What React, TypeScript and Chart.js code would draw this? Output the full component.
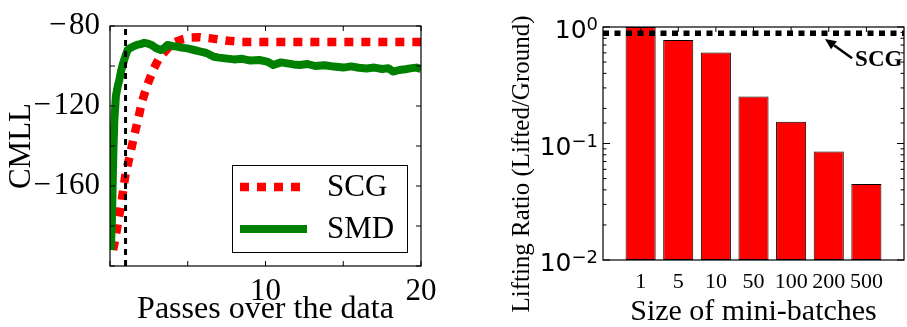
import React, { useEffect, useRef } from 'react';
import { Chart, registerables } from 'chart.js';

Chart.register(...registerables);

// ---------- Left panel data ----------
const scgPasses = [0.2, 0.35, 0.5, 0.7, 0.85, 1.0, 1.3, 1.55, 1.8, 2.05, 2.4, 2.8, 3.1, 3.4, 3.8, 4.2, 4.7, 5.2, 5.8, 6.5, 7.0, 7.6, 8.5, 10, 12, 14, 16, 18, 20];
const scgCmll = [-192, -186, -179, -170, -162, -154, -144, -135, -127, -118, -109.5, -101.5, -97, -94, -90.5, -88, -86.5, -85.7, -85.6, -86.2, -86.8, -87.4, -88, -88, -88, -88, -88, -88, -88];

const smdPasses = [0.05, 0.12, 0.17, 0.22, 0.28, 0.38, 0.5, 0.6, 0.7, 0.81, 0.95, 1.13, 1.35, 1.56, 1.8, 2.0, 2.2, 2.45, 2.7, 2.95, 3.27, 3.5, 3.7, 4.0, 4.3, 4.6, 4.98, 5.4, 5.83, 6.2, 6.69, 7.0, 7.4, 7.97, 8.5, 9.04, 9.6, 10.1, 10.5, 11.0, 11.4, 11.8, 12.2, 12.7, 13.2, 13.8, 14.4, 15.0, 15.5, 16.0, 16.5, 17.0, 17.5, 17.9, 18.2, 18.6, 19.0, 19.3, 19.7, 20.0];
const smdCmll = [-192, -178, -160, -142, -127, -115, -110, -107, -103, -99.5, -96, -92, -90.8, -90, -89.3, -89, -88.4, -88.8, -89.6, -91, -92, -91, -89.5, -90, -90.3, -90.8, -91.2, -92, -92.8, -93.5, -95.4, -95.8, -96.2, -96.7, -96.4, -97.3, -97.0, -97.8, -99.5, -98.2, -98.7, -99.2, -99.5, -99.0, -100.0, -99.6, -100.3, -100.8, -100.2, -100.9, -101.2, -100.8, -101.5, -101.1, -102.8, -102.0, -101.6, -101.2, -100.8, -101.5];

const passMarker = 1;
const leftXTickLabels = [10, 20];
const leftYTickLabels = [-80, -120, -160];
const leftSeriesNames = ['SCG', 'SMD'];

// ---------- Right panel data ----------
const batchSizes = ['1', '5', '10', '50', '100', '200', '500'];
const liftingRatio = [1.0, 0.774, 0.603, 0.253, 0.154, 0.0854, 0.0449];
const scgLiftingRatio = 0.883;
const rightYTickExponents = [0, -1, -2];
const scgLabelAt = { x: 5.7, y: 0.46 };
const scgArrowTail = { x: 5.62, y: 0.54 };
const scgArrowTip = { x: 4.9, y: 0.79 };

const SERIF = '"Liberation Serif", "Times New Roman", serif';
const SANS = '"DejaVu Sans", sans-serif';

function drawFrame(chart: any) {
  const { ctx, chartArea: a } = chart;
  ctx.save();
  ctx.strokeStyle = '#000';
  ctx.lineWidth = 1.2;
  ctx.strokeRect(a.left, a.top, a.right - a.left, a.bottom - a.top);
  ctx.restore();
}

const leftFramePlugin = {
  id: 'leftFrame',
  afterDatasetsDraw(chart: any) {
    const { ctx, chartArea: a, scales } = chart;
    drawFrame(chart);
    ctx.save();
    ctx.strokeStyle = '#000';
    ctx.lineWidth = 1;
    const L = 5;
    ctx.beginPath();
    for (const t of scales.x.ticks) {
      const x = scales.x.getPixelForValue(t.value);
      ctx.moveTo(x, a.bottom); ctx.lineTo(x, a.bottom - L);
      ctx.moveTo(x, a.top); ctx.lineTo(x, a.top + L);
    }
    for (const t of scales.y.ticks) {
      const y = scales.y.getPixelForValue(t.value);
      ctx.moveTo(a.left, y); ctx.lineTo(a.left + L, y);
      ctx.moveTo(a.right, y); ctx.lineTo(a.right - L, y);
    }
    ctx.stroke();
    ctx.restore();
  },
  afterDraw(chart: any) {
    const { ctx, chartArea: a } = chart;
    const w = 175, h = 87;
    const right = a.right - 14, bottom = a.bottom - 14;
    const left = right - w, top = bottom - h;
    ctx.save();
    ctx.fillStyle = '#fff';
    ctx.fillRect(left, top, w, h);
    ctx.strokeStyle = '#000';
    ctx.lineWidth = 1;
    ctx.strokeRect(left + 0.5, top + 0.5, w, h);
    leftSeriesNames.forEach((name, i) => {
      const ds = chart.data.datasets[i];
      const y = top + 22 + i * 42;
      ctx.beginPath();
      ctx.strokeStyle = ds.borderColor;
      ctx.lineWidth = ds.borderWidth;
      ctx.lineCap = 'butt';
      ctx.setLineDash(ds.borderDash || []);
      ctx.moveTo(left + 8, y);
      ctx.lineTo(left + 75, y);
      ctx.stroke();
      ctx.setLineDash([]);
      ctx.fillStyle = '#000';
      ctx.font = `31px ${SERIF}`;
      ctx.textBaseline = 'middle';
      ctx.textAlign = 'left';
      ctx.fillText(name, left + 95, y + 1);
    });
    ctx.restore();
  },
};

const rightFramePlugin = {
  id: 'rightFrame',
  afterDatasetsDraw(chart: any) {
    const { ctx, chartArea: a, scales } = chart;
    drawFrame(chart);
    ctx.save();
    ctx.strokeStyle = '#000';
    ctx.lineWidth = 1;
    ctx.beginPath();
    for (const t of scales.y.ticks) {
      const v = t.value;
      const lg = Math.log10(v);
      const major = Math.abs(lg - Math.round(lg)) < 1e-6;
      const L = major ? 7 : 3.5;
      const y = scales.y.getPixelForValue(v);
      ctx.moveTo(a.left, y); ctx.lineTo(a.left + L, y);
      ctx.moveTo(a.right, y); ctx.lineTo(a.right - L, y);
    }
    batchSizes.forEach((_, i) => {
      const x = scales.x.getPixelForValue(i);
      ctx.moveTo(x, a.top); ctx.lineTo(x, a.top + 5);
    });
    ctx.stroke();
    ctx.restore();
  },
  afterDraw(chart: any) {
    const { ctx, chartArea: a, scales } = chart;
    ctx.save();
    ctx.fillStyle = '#000';
    // y tick labels 10^e
    const rightEdge = a.left - 5;
    for (const e of rightYTickExponents) {
      const y = scales.y.getPixelForValue(Math.pow(10, e));
      const sup = e < 0 ? '\u2212' + Math.abs(e) : String(e);
      ctx.font = `18px ${SANS}`;
      const w2 = ctx.measureText(sup).width;
      ctx.font = `25px ${SANS}`;
      const w1 = ctx.measureText('10').width;
      ctx.textBaseline = 'alphabetic';
      ctx.textAlign = 'left';
      ctx.fillText('10', rightEdge - w2 - w1, y + 11);
      ctx.font = `18px ${SANS}`;
      ctx.fillText(sup, rightEdge - w2, y + 3);
    }
    // y title
    ctx.save();
    ctx.translate(64, 164);
    ctx.rotate(-Math.PI / 2);
    ctx.font = `25px ${SERIF}`;
    ctx.textAlign = 'center';
    ctx.textBaseline = 'middle';
    ctx.fillText('Lifting Ratio (Lifted/Ground)', 0, 0);
    ctx.restore();
    // annotation
    const tx = scales.x.getPixelForValue(scgArrowTail.x), ty = scales.y.getPixelForValue(scgArrowTail.y);
    const hx = scales.x.getPixelForValue(scgArrowTip.x), hy = scales.y.getPixelForValue(scgArrowTip.y);
    const ang = Math.atan2(hy - ty, hx - tx);
    const headLen = 11, headW = 5;
    const bx = hx - headLen * Math.cos(ang), by = hy - headLen * Math.sin(ang);
    ctx.strokeStyle = '#000';
    ctx.lineWidth = 2.5;
    ctx.beginPath();
    ctx.moveTo(tx, ty); ctx.lineTo(bx, by);
    ctx.stroke();
    ctx.beginPath();
    ctx.moveTo(hx, hy);
    ctx.lineTo(bx + headW * Math.sin(ang), by - headW * Math.cos(ang));
    ctx.lineTo(bx - headW * Math.sin(ang), by + headW * Math.cos(ang));
    ctx.closePath();
    ctx.fill();
    ctx.font = `bold 23px ${SERIF}`;
    ctx.textAlign = 'left';
    ctx.textBaseline = 'alphabetic';
    ctx.fillText('SCG', scales.x.getPixelForValue(scgLabelAt.x), scales.y.getPixelForValue(scgLabelAt.y));
    ctx.restore();
  },
};

function leftConfig(): any {
  return {
    type: 'line',
    data: {
      datasets: [
        {
          label: leftSeriesNames[0],
          data: scgPasses.map((x, i) => ({ x, y: scgCmll[i] })),
          borderColor: '#ff0000', borderWidth: 8.5, borderDash: [9, 8], borderCapStyle: 'butt',
          pointRadius: 0, tension: 0, fill: false, order: 2,
        },
        {
          label: leftSeriesNames[1],
          data: smdPasses.map((x, i) => ({ x, y: smdCmll[i] })),
          borderColor: '#008000', borderWidth: 8, borderJoinStyle: 'round', borderCapStyle: 'butt',
          pointRadius: 0, tension: 0, fill: false, order: 1,
        },
        {
          label: 'marker',
          data: [{ x: passMarker, y: -200 }, { x: passMarker, y: -80 }],
          borderColor: '#000', borderWidth: 3, borderDash: [6, 5],
          pointRadius: 0, fill: false, order: 0,
        },
      ],
    },
    options: {
      responsive: false, animation: false, devicePixelRatio: 1,
      layout: { padding: { top: 26, right: 37, left: 0, bottom: 0 } },
      plugins: { legend: { display: false }, tooltip: { enabled: false } },
      scales: {
        x: {
          type: 'linear', min: 0, max: 20,
          grid: { display: false, drawTicks: false }, border: { display: false },
          ticks: {
            stepSize: 5, padding: 7, maxRotation: 0, autoSkip: false, color: '#000',
            font: { family: SERIF, size: 31 },
            callback: (v: number) => (leftXTickLabels.includes(v) ? String(v) : ''),
          },
          title: { display: true, text: 'Passes over the data', color: '#000', font: { family: SERIF, size: 32, lineHeight: 1.1 }, padding: 0 },
          afterFit: (s: any) => { s.height = 61; s.paddingLeft = 0; s.paddingRight = 0; },
        },
        y: {
          type: 'linear', min: -200, max: -80,
          grid: { display: false, drawTicks: false }, border: { display: false },
          ticks: {
            stepSize: 20, padding: 10, autoSkip: false, color: '#000',
            font: { family: SERIF, size: 31 },
            callback: (v: number) => (leftYTickLabels.includes(v) ? '\u2212\u200A' + Math.abs(v) : ''),
          },
          title: { display: true, text: 'CMLL', color: '#000', font: { family: SERIF, size: 31 }, padding: { top: 3, bottom: 0 } },
          afterFit: (s: any) => { s.width = 110; s.paddingTop = 0; s.paddingBottom = 0; },
        },
      },
    },
    plugins: [leftFramePlugin],
  };
}

function rightConfig(): any {
  return {
    type: 'bar',
    data: {
      datasets: [
        {
          type: 'line',
          label: 'SCG',
          data: [{ x: -1, y: scgLiftingRatio }, { x: batchSizes.length, y: scgLiftingRatio }],
          borderColor: '#000', borderWidth: 5.5, borderDash: [6, 5.5], borderCapStyle: 'butt',
          pointRadius: 0, fill: false, order: 0,
        },
        {
          type: 'bar',
          label: 'Lifting ratio',
          data: liftingRatio.map((y, i) => ({ x: i, y })),
          backgroundColor: '#ff0000', borderColor: '#000', borderWidth: 1, borderSkipped: false,
          categoryPercentage: 0.8, barPercentage: 1, order: 1,
        },
      ],
    },
    options: {
      responsive: false, animation: false, devicePixelRatio: 1,
      layout: { padding: { top: 27, right: 3, left: 0, bottom: 0 } },
      plugins: { legend: { display: false }, tooltip: { enabled: false } },
      scales: {
        x: {
          type: 'linear', min: -1, max: batchSizes.length, offset: false,
          grid: { display: false, drawTicks: false }, border: { display: false },
          ticks: {
            stepSize: 1, padding: 9, maxRotation: 0, autoSkip: false, color: '#000',
            font: { family: SERIF, size: 22 },
            callback: (v: number) => (batchSizes[v] !== undefined ? batchSizes[v] : ''),
          },
          title: { display: true, text: 'Size of mini-batches', color: '#000', font: { family: SERIF, size: 30, lineHeight: 1.0 }, padding: 0 },
          afterFit: (s: any) => { s.height = 67; s.paddingLeft = 0; s.paddingRight = 0; },
        },
        y: {
          type: 'logarithmic', min: 0.01, max: 1,
          grid: { display: false, drawTicks: false }, border: { display: false },
          ticks: { display: false },
          afterFit: (s: any) => { s.width = 145; s.paddingTop = 0; s.paddingBottom = 0; },
        },
      },
    },
    plugins: [rightFramePlugin],
  };
}

export default function App() {
  const leftRef = useRef<HTMLCanvasElement>(null);
  const rightRef = useRef<HTMLCanvasElement>(null);
  useEffect(() => {
    const a = new Chart(leftRef.current as HTMLCanvasElement, leftConfig());
    const b = new Chart(rightRef.current as HTMLCanvasElement, rightConfig());
    return () => { a.destroy(); b.destroy(); };
  }, []);
  return (
    <div style={{ position: 'absolute', left: 0, top: 0, width: 907, height: 327, background: '#fff' }}>
      <canvas ref={leftRef} width={458} height={327} style={{ position: 'absolute', left: 0, top: 0 }} />
      <canvas ref={rightRef} width={449} height={327} style={{ position: 'absolute', left: 458, top: 0 }} />
    </div>
  );
}
